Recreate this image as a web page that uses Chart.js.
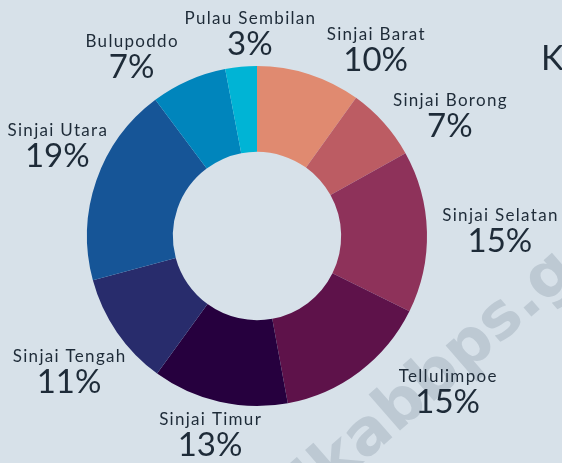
<!DOCTYPE html>
<html><head><meta charset="utf-8">
<script src="https://cdn.jsdelivr.net/npm/chart.js@4"></script>
<style>html,body{margin:0;padding:0;background:#d7e1e9;overflow:hidden}canvas{display:block}</style>
</head><body><canvas id="c" width="562" height="463"></canvas>
<script>
const categories = ["Sinjai Barat","Sinjai Borong","Sinjai Selatan","Tellulimpoe","Sinjai Timur","Sinjai Tengah","Sinjai Utara","Bulupoddo","Pulau Sembilan"];
const shares = [9.9, 7.0, 15.4, 14.8, 12.9, 10.8, 19.0, 7.2, 3.0];
const sliceColors = ["#e08a70","#bc5c63","#8e325a","#5e124a","#26003e","#282c6c","#165597","#0085bc","#00b4d5"];
const titleText = "K";
const watermarkText = "sinjaikabbps.go.id";

// label layout: [angle nudge in degrees, distance beyond outer radius]
const labelPlacement = [[14.5,52],[9.5,58],[-0.3,73],[-14,75],[0.6,33],[-1,61],[5.7,50],[-11,50],[3.4,34]];

const textColor = "#1e2b38";

const decor = {
  id: "decor",
  beforeDraw(chart) {
    const ctx = chart.ctx;
    ctx.save();
    ctx.font = 'bold 63px "DejaVu Sans"';
    ctx.fillStyle = "#bdc9d3";
    ctx.textBaseline = "alphabetic";
    const ang = -41 * Math.PI / 180;
    const prefix = ctx.measureText("sinjaik").width;
    ctx.translate(364, 462);
    ctx.rotate(ang);
    ctx.fillText(watermarkText, -prefix, 0);
    ctx.restore();
  },
  afterDatasetsDraw(chart) {
    const ctx = chart.ctx;
    const meta = chart.getDatasetMeta(0);
    ctx.save();
    ctx.fillStyle = textColor;
    ctx.textAlign = "center";
    ctx.textBaseline = "alphabetic";
    meta.data.forEach((arc, i) => {
      const p = arc.getProps(["x","y","startAngle","endAngle","outerRadius"], true);
      const mid = (p.startAngle + p.endAngle) / 2;
      const a = mid + labelPlacement[i][0] * Math.PI / 180;
      const r = p.outerRadius + labelPlacement[i][1];
      const cx = p.x + Math.cos(a) * r;
      const cy = p.y + Math.sin(a) * r;
      ctx.font = '17px Lato';
      ctx.letterSpacing = '1.3px';
      ctx.fillText(categories[i], cx + 0.6, cy - 8);
      ctx.font = '33px Lato';
      ctx.letterSpacing = '0px';
      ctx.fillText(Math.round(shares[i]) + "%", cx, cy + 23);
    });
    ctx.font = '34px Lato';
    ctx.textAlign = "left";
    ctx.fillText(titleText, 541, 70);
    ctx.restore();
  }
};

new Chart(document.getElementById("c"), {
  type: "doughnut",
  data: {
    labels: categories,
    datasets: [{
      data: shares,
      backgroundColor: sliceColors,
      borderWidth: 0
    }]
  },
  options: {
    responsive: false,
    animation: false,
    cutout: "49.5%",
    layout: { padding: { top: 66, bottom: 57, left: 87, right: 135 } },
    plugins: { legend: { display: false }, tooltip: { enabled: false }, title: { display: false } }
  },
  plugins: [decor]
});
</script>
</body></html>
